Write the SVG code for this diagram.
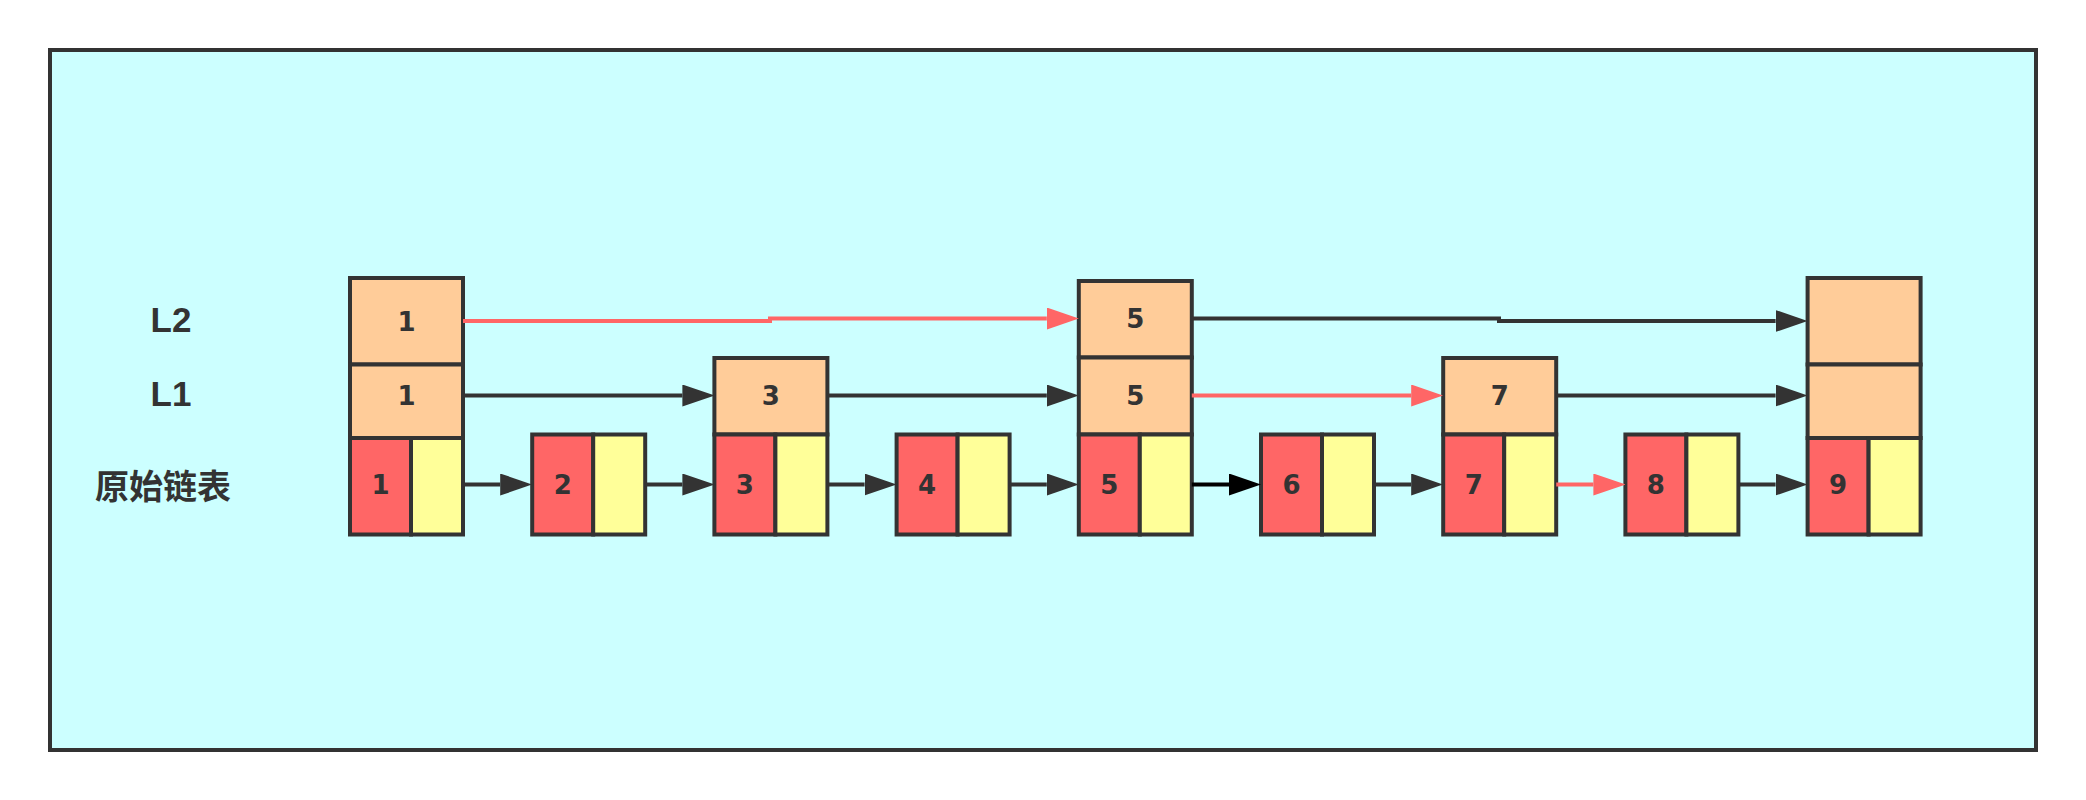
<svg xmlns="http://www.w3.org/2000/svg" width="2086" height="800" viewBox="0 0 2086 800">
<style>
.box{stroke:#333333;stroke-width:4}
.lv{fill:#FFCC99}
.rd{fill:#FF6666}
.yl{fill:#FFFF99}
.num{font-family:"DejaVu Sans",sans-serif;font-weight:bold;font-size:26px;fill:#333333;text-anchor:middle}
.lab{font-family:"Liberation Sans","Noto Sans CJK SC",sans-serif;font-weight:bold;font-size:35px;fill:#333333;text-anchor:middle}
.cjk{font-family:"Noto Sans CJK SC",sans-serif;font-weight:bold;font-size:34px;fill:#333333;text-anchor:middle}
.ln{fill:none;stroke-width:4}
.dk{stroke:#333333}
.rl{stroke:#FF6666}
.bk{stroke:#000000}
</style>
<defs>
<marker id="ad" markerUnits="userSpaceOnUse" viewBox="0 0 32 22" refX="0" refY="11" markerWidth="32" markerHeight="22" orient="auto"><path d="M0,0 L32,11 L0,22 Z" fill="#333333"/></marker>
<marker id="ar" markerUnits="userSpaceOnUse" viewBox="0 0 32 22" refX="0" refY="11" markerWidth="32" markerHeight="22" orient="auto"><path d="M0,0 L32,11 L0,22 Z" fill="#FF6666"/></marker>
<marker id="ab" markerUnits="userSpaceOnUse" viewBox="0 0 32 22" refX="0" refY="11" markerWidth="32" markerHeight="22" orient="auto"><path d="M0,0 L32,11 L0,22 Z" fill="#000000"/></marker>
</defs>
<rect id="frame" x="50" y="50" width="1986" height="700" fill="#CCFFFF" stroke="#333333" stroke-width="4"/>
<g id="labels">
<text class="lab" x="171" y="332">L2</text>
<text class="lab" x="171" y="405.5">L1</text>
<text class="cjk" x="163" y="499">原始链表</text>
</g>
<g id="n1">
<rect class="box lv" x="350" y="278" width="113" height="86.5"/>
<rect class="box lv" x="350" y="364.5" width="113" height="73.5"/>
<rect class="box rd" x="350" y="438" width="61" height="96.5"/>
<rect class="box yl" x="411" y="438" width="52" height="96.5"/>
<text class="num" x="406.5" y="331">1</text>
<text class="num" x="406.5" y="405">1</text>
<text class="num" x="380.5" y="494">1</text>
</g>
<g id="n2">
<rect class="box rd" x="532.2" y="434.5" width="61" height="100"/>
<rect class="box yl" x="593.2" y="434.5" width="52" height="100"/>
<text class="num" x="562.7" y="494">2</text>
</g>
<g id="n3">
<rect class="box lv" x="714.4" y="358" width="113" height="76.5"/>
<rect class="box rd" x="714.4" y="434.5" width="61" height="100"/>
<rect class="box yl" x="775.4" y="434.5" width="52" height="100"/>
<text class="num" x="770.9" y="405">3</text>
<text class="num" x="744.9" y="494">3</text>
</g>
<g id="n4">
<rect class="box rd" x="896.6" y="434.5" width="61" height="100"/>
<rect class="box yl" x="957.6" y="434.5" width="52" height="100"/>
<text class="num" x="927.1" y="494">4</text>
</g>
<g id="n5">
<rect class="box lv" x="1078.8" y="281" width="113" height="76.5"/>
<rect class="box lv" x="1078.8" y="357.5" width="113" height="77"/>
<rect class="box rd" x="1078.8" y="434.5" width="61" height="100"/>
<rect class="box yl" x="1139.8" y="434.5" width="52" height="100"/>
<text class="num" x="1135.3" y="328">5</text>
<text class="num" x="1135.3" y="405">5</text>
<text class="num" x="1109.3" y="494">5</text>
</g>
<g id="n6">
<rect class="box rd" x="1261" y="434.5" width="61" height="100"/>
<rect class="box yl" x="1322" y="434.5" width="52" height="100"/>
<text class="num" x="1291.5" y="494">6</text>
</g>
<g id="n7">
<rect class="box lv" x="1443.2" y="358" width="113" height="76.5"/>
<rect class="box rd" x="1443.2" y="434.5" width="61" height="100"/>
<rect class="box yl" x="1504.2" y="434.5" width="52" height="100"/>
<text class="num" x="1499.7" y="405">7</text>
<text class="num" x="1473.7" y="494">7</text>
</g>
<g id="n8">
<rect class="box rd" x="1625.4" y="434.5" width="61" height="100"/>
<rect class="box yl" x="1686.4" y="434.5" width="52" height="100"/>
<text class="num" x="1655.9" y="494">8</text>
</g>
<g id="n9">
<rect class="box lv" x="1807.6" y="278" width="113" height="86.5"/>
<rect class="box lv" x="1807.6" y="364.5" width="113" height="73.5"/>
<rect class="box rd" x="1807.6" y="438" width="61" height="96.5"/>
<rect class="box yl" x="1868.6" y="438" width="52" height="96.5"/>
<text class="num" x="1838.1" y="494">9</text>
</g>
<g id="connectors">
<path class="ln rl" d="M463,321 H770 V318.5 H1046.8" marker-end="url(#ar)"/>
<path class="ln dk" d="M1191.8,318.5 H1499 V321 H1775.6" marker-end="url(#ad)"/>
<path class="ln dk" d="M463,395.5 H682.4" marker-end="url(#ad)"/>
<path class="ln dk" d="M827.4,395.5 H1046.8" marker-end="url(#ad)"/>
<path class="ln rl" d="M1191.8,395.5 H1411.2" marker-end="url(#ar)"/>
<path class="ln dk" d="M1556.2,395.5 H1775.6" marker-end="url(#ad)"/>
<path class="ln dk" d="M463,484.5 H500.2" marker-end="url(#ad)"/>
<path class="ln dk" d="M645.2,484.5 H682.4" marker-end="url(#ad)"/>
<path class="ln dk" d="M827.4,484.5 H864.6" marker-end="url(#ad)"/>
<path class="ln dk" d="M1009.6,484.5 H1046.8" marker-end="url(#ad)"/>
<path class="ln bk" d="M1191.8,484.5 H1229" marker-end="url(#ab)"/>
<path class="ln dk" d="M1374,484.5 H1411.2" marker-end="url(#ad)"/>
<path class="ln rl" d="M1556.2,484.5 H1593.4" marker-end="url(#ar)"/>
<path class="ln dk" d="M1738.4,484.5 H1775.6" marker-end="url(#ad)"/>
</g>
</svg>
